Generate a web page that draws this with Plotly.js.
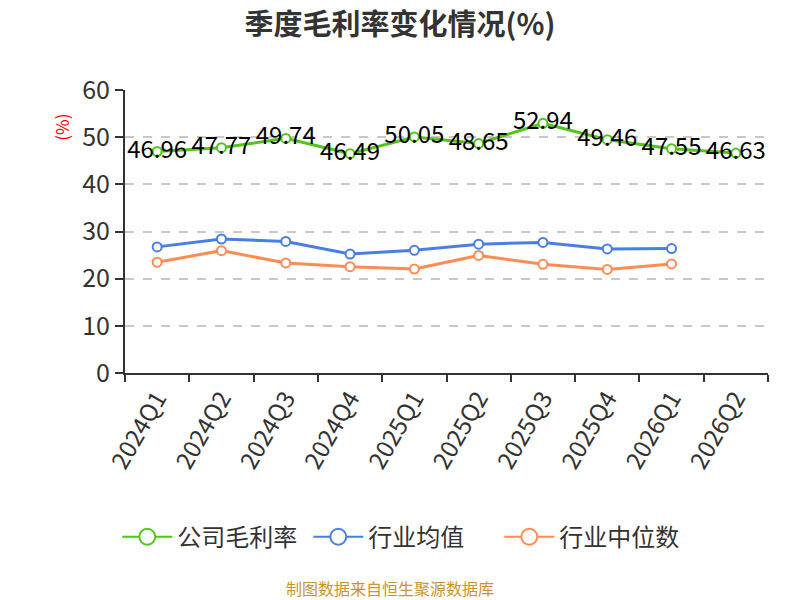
<!DOCTYPE html>
<html>
<head>
<meta charset="utf-8">
<script src="https://cdn.plot.ly/plotly-3.0.1.min.js"></script>
<style>
  html, body { margin: 0; padding: 0; background: #fff; }
  #chart { width: 800px; height: 600px; }
</style>
</head>
<body>
<div id="chart"></div>
<script>
const quarters = ['2024Q1', '2024Q2', '2024Q3', '2024Q4', '2025Q1', '2025Q2', '2025Q3', '2025Q4', '2026Q1', '2026Q2'];
const companyMargin = [46.96, 47.77, 49.74, 46.49, 50.05, 48.65, 52.94, 49.46, 47.55, 46.63];
const industryMean = [26.74, 28.41, 27.90, 25.22, 26.01, 27.32, 27.68, 26.30, 26.38];
const industryMedian = [23.48, 25.94, 23.33, 22.54, 22.03, 24.93, 23.04, 21.96, 23.12];

const seriesNames = ['公司毛利率', '行业均值', '行业中位数'];
const seriesColors = ['#52c41a', '#4a7ee3', '#ff8c55'];

const font = '"Noto Sans CJK SC", "Noto Sans", sans-serif';

function series(i, y, withText) {
    const t = {
        x: quarters.slice(0, y.length),
        y: y,
        name: seriesNames[i],
        type: 'scatter',
        mode: withText ? 'lines+markers+text' : 'lines+markers',
        line: { color: seriesColors[i], width: 3 },
        marker: { color: '#fff', size: 9, line: { color: seriesColors[i], width: 2 } },
        showlegend: false,
        hoverinfo: 'x+y'
    };
    if (withText) {
        t.text = y.map(v => v.toFixed(2));
        t.textposition = 'middle center';
        t.textfont = { family: font, size: 24, color: '#000' };
    }
    return t;
}

// legend-only entries with bigger symbols
function legendEntry(i) {
    return {
        x: [null], y: [null],
        name: seriesNames[i],
        type: 'scatter',
        mode: 'lines+markers',
        line: { color: seriesColors[i], width: 2 },
        marker: { color: '#fff', size: 20, line: { color: seriesColors[i], width: 2 } },
        hoverinfo: 'skip'
    };
}

const data = [
    series(0, companyMargin, true),
    series(1, industryMean, false),
    series(2, industryMedian, false),
    legendEntry(0), legendEntry(1), legendEntry(2)
];

const layout = {
    width: 800,
    height: 600,
    margin: { t: 90, b: 227, l: 125, r: 32 },
    paper_bgcolor: '#fff',
    plot_bgcolor: '#fff',
    font: { family: font, color: '#333' },
    title: {
        text: '<b>季度毛利率变化情况(%)</b>',
        font: { family: font, size: 29, color: '#333' },
        x: 0.5, xanchor: 'center',
        y: 0.958, yanchor: 'middle'
    },
    xaxis: {
        type: 'category',
        range: [-0.5, 9.5],
        tickson: 'boundaries',
        ticks: 'outside',
        ticklen: 7,
        tickwidth: 2,
        tickcolor: '#333',
        showline: true,
        linecolor: '#333',
        linewidth: 2,
        showgrid: false,
        tickangle: -60,
        tickfont: { family: font, size: 24, color: '#333' }
    },
    yaxis: {
        range: [0, 60],
        dtick: 10,
        ticks: 'outside',
        ticklen: 8,
        tickwidth: 2,
        tickcolor: '#333',
        showline: true,
        linecolor: '#333',
        linewidth: 2,
        gridcolor: '#c8c8c8',
        griddash: 'dash',
        gridwidth: 1.5,
        zeroline: false,
        tickfont: { family: font, size: 25, color: '#333' }
    },
    legend: {
        orientation: 'h',
        x: -0.012, xanchor: 'left',
        y: -0.58, yanchor: 'middle',
        font: { family: font, size: 24, color: '#333' },
        itemwidth: 50,
        entrywidth: 126,
        entrywidthmode: 'pixels'
    },
    annotations: [
        {
            text: '(%)',
            xref: 'paper', yref: 'paper',
            x: -0.098, y: 0.87,
            xanchor: 'center', yanchor: 'middle',
            textangle: -90,
            showarrow: false,
            font: { family: font, size: 17, color: '#ff0000' }
        },
        {
            text: '制图数据来自恒生聚源数据库',
            xref: 'paper', yref: 'paper',
            x: 0.5 - 57 / 643, y: -0.76,
            xanchor: 'center', yanchor: 'middle',
            showarrow: false,
            font: { family: font, size: 16, color: '#c9952a' }
        }
    ],
    showlegend: true
};

Plotly.newPlot('chart', data, layout, { displayModeBar: false });
</script>
</body>
</html>
